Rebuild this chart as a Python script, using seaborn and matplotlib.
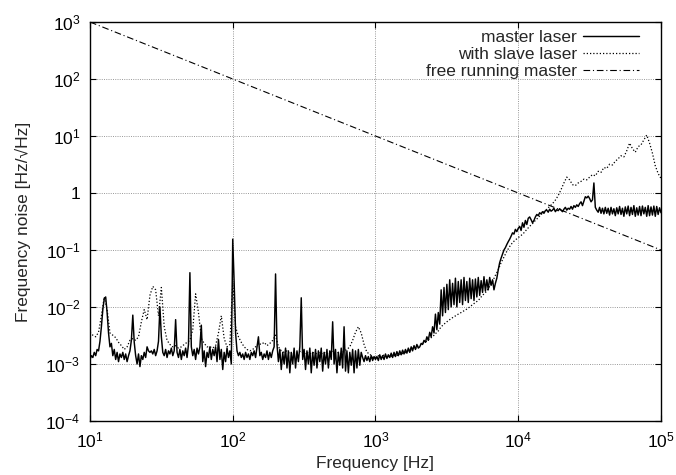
import numpy as np
import pandas as pd
import matplotlib
matplotlib.use("Agg")
import matplotlib.pyplot as plt
import matplotlib.ticker as mticker
import seaborn as sns

# spectra, in mHz/sqrt(Hz)
# master laser: 100 bins per decade
master_10_100 = [1.2, 1.4, 1.3, 1.6, 1.4, 1.8, 1.7, 2.5, 4.5, 9,
                 14, 15, 8, 3.5, 2.0, 2.3, 1.4, 1.8, 1.2, 1.6,
                 1.1, 1.5, 1.3, 1.6, 1.2, 1.5, 1.1, 1.4, 1.7, 2.6,
                 7.2, 2.4, 1.4, 1.0, 1.5, 0.9, 1.4, 1.2, 1.6, 1.3,
                 2.0, 1.7, 1.6, 1.7, 1.5, 1.8, 1.4, 1.7, 2.5, 10,
                 3.0, 1.6, 1.4, 1.8, 1.3, 1.7, 1.5, 1.9, 1.4, 1.7,
                 6.0, 1.6, 1.3, 1.8, 1.2, 1.7, 1.4, 1.9, 1.3, 2.2,
                 40, 2.0, 1.4, 1.8, 1.2, 1.9, 1.5, 2.0, 4.8, 1.1,
                 1.7, 0.9, 1.6, 1.3, 2.0, 1.2, 1.8, 1.4, 2.0, 1.1,
                 2.7, 1.2, 1.8, 0.8, 1.6, 1.1, 1.9, 1.3, 1.7, 1.0,
                 155]
master_100_1k = [27, 3.5, 1.7, 1.4, 1.6, 1.3, 1.5, 1.2, 1.6, 1.3,
                 1.5, 1.2, 1.6, 1.4, 1.7, 1.3, 2.0, 3.0, 1.4, 1.6,
                 1.2, 1.5, 1.3, 1.7, 1.2, 1.6, 1.3, 1.7, 2.0, 38,
                 2.2, 1.1, 1.8, 0.8, 1.6, 1.0, 1.9, 0.85, 1.7, 0.7,
                 1.6, 1.0, 1.9, 0.85, 1.7, 1.1, 2.0, 14.5, 1.2, 1.8,
                 0.8, 1.7, 1.0, 1.9, 0.7, 1.6, 0.95, 1.8, 0.85, 1.7,
                 1.1, 1.9, 0.75, 1.6, 1.0, 1.8, 0.85, 1.7, 1.2, 5.5,
                 1.0, 1.8, 0.7, 1.6, 0.95, 1.9, 0.85, 4.5, 0.75, 1.7,
                 0.7, 1.6, 0.95, 1.8, 0.7, 1.7, 0.85, 1.8, 0.95, 1.6,
                 1.3, 1.1, 1.4, 1.15, 1.35, 1.1, 1.4, 1.15, 1.35, 1.2]
master_1k_10k = [1.35, 1.15, 1.45, 1.2, 1.4, 1.2, 1.5, 1.25, 1.45, 1.3,
                 1.55, 1.3, 1.6, 1.35, 1.65, 1.4, 1.7, 1.45, 1.75, 1.5,
                 1.8, 1.55, 1.9, 1.6, 2.0, 1.7, 2.1, 1.8, 2.2, 1.9,
                 2.0, 2.3, 2.2, 2.6, 2.4, 3.0, 2.6, 3.6, 3.0, 4.5,
                 3.5, 7.5, 4.0, 8.0, 5.0, 20, 7, 22, 8, 25,
                 9, 30, 10, 26, 11, 32, 10, 28, 12, 30,
                 11, 33, 13, 28, 12, 32, 14, 30, 13, 31,
                 15, 33, 16, 29, 18, 34, 19, 30, 20, 33,
                 24, 30, 20, 26, 32, 45, 60, 72, 85, 100,
                 110, 125, 140, 155, 175, 200, 190, 230, 210, 240]
master_10k_100k = [260, 220, 300, 250, 330, 280, 360, 380, 340, 300,
                   330, 380, 420, 400, 450, 430, 470, 440, 490, 500,
                   460, 520, 480, 500, 540, 470, 510, 490, 530, 500,
                   470, 520, 560, 500, 540, 520, 580, 520, 600, 560,
                   620, 580, 650, 700, 600, 720, 860, 820, 880, 800,
                   700, 760, 1500, 560, 500, 460, 560, 440, 540, 430,
                   560, 440, 540, 410, 560, 430, 530, 400, 550, 430,
                   580, 420, 540, 390, 570, 430, 590, 400, 560, 420,
                   600, 390, 550, 410, 580, 400, 590, 430, 560, 390,
                   600, 400, 570, 410, 590, 390, 580, 420, 550, 450]

# with slave laser: 50 bins per decade
slave_10_100 = [3.6, 3.2, 3.0, 3.6, 7, 15, 9, 3.5, 3.2, 2.9,
                2.4, 2.1, 1.8, 2.0, 2.6, 2.8, 2.6, 3.0, 5.5, 9,
                6, 16, 23, 20, 7, 22, 4.5, 2.6, 2.2, 2.0,
                2.1, 1.9, 2.0, 2.2, 2.4, 2.6, 4.0, 17, 8, 2.8,
                2.3, 2.0, 2.0, 1.9, 2.1, 3.5, 7, 2.8, 2.0, 2.2,
                27]
slave_100_1k = [4.5, 3.0, 2.4, 2.0, 1.8, 1.7, 1.8, 2.0, 2.3, 2.2,
                2.4, 2.1, 2.3, 2.6, 3.2, 2.0, 1.7, 1.6, 1.7, 1.5,
                1.6, 1.5, 1.6, 1.7, 1.5, 1.6, 1.5, 1.6, 1.5, 1.6,
                1.5, 1.6, 1.5, 1.6, 1.7, 1.5, 1.6, 1.5, 1.7, 1.8,
                2.0, 2.6, 3.6, 4.5, 3.5, 2.2, 1.6, 1.5, 1.3, 1.3]
slave_1k_10k = [1.4, 1.3, 1.45, 1.3, 1.4, 1.35, 1.45, 1.4, 1.55, 1.5,
                1.7, 1.65, 1.9, 1.85, 2.1, 2.2, 2.4, 2.5, 2.8, 3.0,
                3.4, 3.8, 4.5, 5.0, 5.5, 6.0, 6.5, 7.0, 7.5, 8.0,
                8.6, 9.2, 10, 11, 12, 13, 15, 17, 19, 23,
                28, 36, 45, 60, 75, 95, 115, 135, 150, 165]
slave_10k_100k = [180, 200, 230, 260, 290, 330, 370, 420, 470, 520,
                  580, 650, 750, 900, 1150, 1500, 1900, 1700, 1400, 1350,
                  1500, 1600, 1750, 1700, 1900, 2100, 2000, 2400, 2300, 2800,
                  2700, 3200, 3100, 3600, 4000, 4500, 4300, 5500, 7500, 6000,
                  5200, 6500, 7000, 8500, 10400, 7500, 5000, 3000, 2200, 1800]

# free running master, straight line on log-log
free_hz = [10, 1e5]
free_mhz = [1e6, 100]

y_ticks = [1e-4, 1e-3, 1e-2, 1e-1, 1, 10, 100, 1000]
y_labels = ["$10^{-4}$", "$10^{-3}$", "$10^{-2}$", "$10^{-1}$", "1",
            "$10^{1}$", "$10^{2}$", "$10^{3}$"]
x_ticks = [10, 100, 1000, 1e4, 1e5]
x_labels = ["$10^{1}$", "$10^{2}$", "$10^{3}$", "$10^{4}$", "$10^{5}$"]

master_asd = np.concatenate([master_10_100, master_100_1k,
                             master_1k_10k, master_10k_100k]) / 1000
slave_asd = np.concatenate([slave_10_100, slave_100_1k,
                            slave_1k_10k, slave_10k_100k]) / 1000
master = pd.DataFrame({"hz": np.geomspace(10, 1e5, len(master_asd)), "asd": master_asd})
slave = pd.DataFrame({"hz": np.geomspace(10, 1e5, len(slave_asd)), "asd": slave_asd})
free = pd.DataFrame({"hz": free_hz, "asd": np.array(free_mhz) / 1000})

sns.set_style("ticks")
plt.rcParams["font.family"] = ["Liberation Sans", "DejaVu Sans"]
plt.rcParams["mathtext.fontset"] = "custom"
plt.rcParams["mathtext.rm"] = "Liberation Sans"
plt.rcParams["mathtext.it"] = "Liberation Sans:italic"
plt.rcParams["mathtext.bf"] = "Liberation Sans:bold"

fig = plt.figure(figsize=(6.76, 4.75), dpi=100)
ax = fig.add_axes([0.1331, 0.1137, 0.8447, 0.84])

sns.lineplot(data=master, x="hz", y="asd", ax=ax, color="black", lw=1.05,
             estimator=None, sort=False, label="master laser")
sns.lineplot(data=slave, x="hz", y="asd", ax=ax, color="black", lw=0.9,
             linestyle=(0, (1, 1.6)), estimator=None, sort=False,
             label="with slave laser")
sns.lineplot(data=free, x="hz", y="asd", ax=ax, color="black", lw=0.8,
             linestyle=(0, (6, 2.5, 1, 2.5)), estimator=None, sort=False,
             label="free running master")

ax.set_xscale("log")
ax.set_yscale("log")
ax.set_xlim(10, 1e5)
ax.set_ylim(1e-4, 1e3)
ax.xaxis.set_major_locator(mticker.FixedLocator(x_ticks))
ax.xaxis.set_major_formatter(mticker.FixedFormatter(x_labels))
ax.yaxis.set_major_locator(mticker.FixedLocator(y_ticks))
ax.yaxis.set_major_formatter(mticker.FixedFormatter(y_labels))
ax.xaxis.set_minor_locator(mticker.NullLocator())
ax.yaxis.set_minor_locator(mticker.NullLocator())
ax.tick_params(direction="in", length=4, width=0.8, top=True, right=True,
               labelsize=12.5, colors="black", pad=7)
ax.grid(True, which="major", color="#8c8c8c", linestyle=(0, (1.2, 1.5)), lw=0.6)
for s in ax.spines.values():
    s.set_visible(True)
    s.set_color("black")
    s.set_linewidth(1.0)

ax.set_xlabel("Frequency [Hz]", fontsize=12.5, labelpad=4)
ax.set_ylabel("Frequency noise [Hz/√Hz]", fontsize=12.5, labelpad=10)

ax.legend(loc="upper right", bbox_to_anchor=(0.973, 0.998), borderaxespad=0,
          frameon=False, markerfirst=False, handlelength=3.2,
          handletextpad=0.35, labelspacing=0.12, fontsize=12.5)

fig.savefig("out.png", dpi=100)
